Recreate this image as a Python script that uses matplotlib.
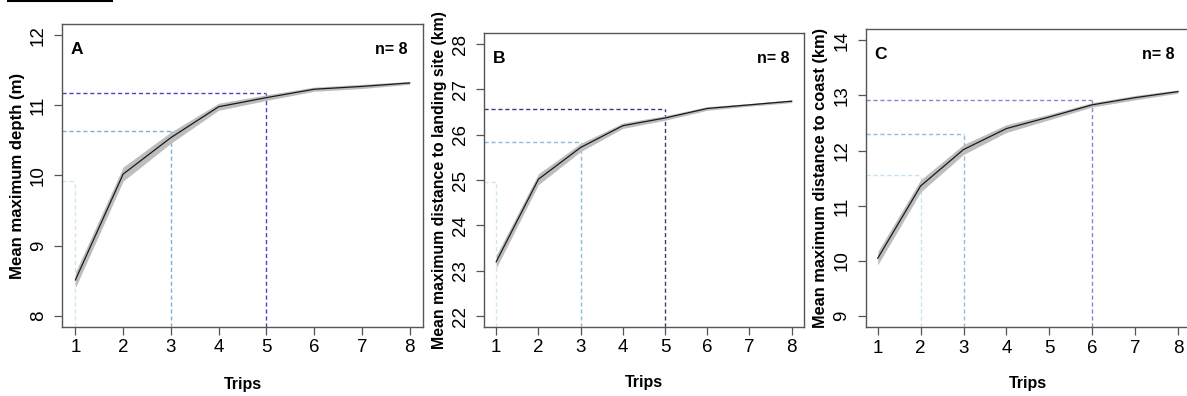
import matplotlib
matplotlib.use("Agg")
import matplotlib.pyplot as plt
from matplotlib.lines import Line2D

plt.rcParams['font.family'] = ['Liberation Sans', 'DejaVu Sans']

trips = [1, 2, 3, 4, 5, 6, 7, 8]

depth_mean = [8.51, 10.02, 10.54, 10.98, 11.11, 11.23, 11.27, 11.32]
depth_err = [0.11, 0.10, 0.08, 0.05, 0.04, 0.03, 0.03, 0.02]

landing_mean = [23.20, 25.02, 25.72, 26.20, 26.37, 26.58, 26.66, 26.74]
landing_err = [0.14, 0.12, 0.09, 0.06, 0.05, 0.04, 0.03, 0.03]

coast_mean = [10.05, 11.36, 12.02, 12.40, 12.61, 12.83, 12.96, 13.07]
coast_err = [0.12, 0.11, 0.09, 0.07, 0.05, 0.04, 0.04, 0.03]

# reference (dashed) guides: (trip, value)
depth_guides = [(1, 9.92), (3, 10.63), (5, 11.18)]
landing_guides = [(1, 24.96), (3, 25.85), (5, 26.57)]
coast_guides = [(2, 11.56), (3, 12.31), (6, 12.91)]

panel_letters = ['A', 'B', 'C']
ylabels = ['Mean maximum depth (m)',
           'Mean maximum distance to landing site (km)',
           'Mean maximum distance to coast (km)']
yticks_list = [[8, 9, 10, 11, 12], [22, 23, 24, 25, 26, 27, 28], [9, 10, 11, 12, 13, 14]]
n_text = 'n= 8'

W, H = 1187, 396
fig = plt.figure(figsize=(W / 100, H / 100), dpi=100)

def box(l, r, t, b):
    return [l / W, 1 - b / H, (r - l) / W, (b - t) / H]

positions = [box(62, 423, 24, 327), box(484.4, 803.5, 33.2, 327), box(865.7, 1190, 29.2, 327.3)]
ylabel_x = [-0.102, -0.117, -0.116]
ylabel_len = [206, 336, 300]
n_right = [0.956, 0.955, 0.951]
guide_cols_all = [
    ['#cde6f2', '#7fb0dc', '#4444c4'],
    ['#cde6f2', '#8dbbe0', '#3a3a80'],
    ['#c4e2f2', '#8fbde2', '#8585d2'],
]

means = [depth_mean, landing_mean, coast_mean]
errs = [depth_err, landing_err, coast_err]
guides = [depth_guides, landing_guides, coast_guides]

spine_col = '#555555'
renderer = fig.canvas.get_renderer()
for i in range(3):
    ax = fig.add_axes(positions[i])
    yt = yticks_list[i]
    ext_y = 0.04 * (yt[-1] - yt[0])
    ax.set_ylim(yt[0] - ext_y, yt[-1] + ext_y)
    ext_x = 0.04 * (trips[-1] - trips[0])
    ax.set_xlim(trips[0] - ext_x, trips[-1] + ext_x)
    ybot = yt[0] - ext_y
    for (gx, gy), c in zip(guides[i], guide_cols_all[i]):
        ax.plot([trips[0] - ext_x, gx], [gy, gy], ls=(0, (3, 2)), color=c, lw=1.0, zorder=1)
        ax.plot([gx, gx], [ybot, gy], ls=(0, (3, 2)), color=c, lw=1.0, zorder=1)
    lo = [m - e for m, e in zip(means[i], errs[i])]
    hi = [m + e for m, e in zip(means[i], errs[i])]
    ax.fill_between(trips, lo, hi, color='#bdbdbd', lw=0, zorder=2)
    ax.plot(trips, means[i], color='#1a1a1a', lw=0.9, zorder=3)
    ax.set_xticks(trips)
    ax.set_yticks(yt)
    ax.set_yticklabels([str(v) for v in yt], rotation=90, va='center')
    ax.tick_params(axis='both', direction='out', length=6, width=0.9, color=spine_col,
                   labelsize=13.5)
    ax.tick_params(axis='y', pad=5)
    ax.tick_params(axis='x', pad=3)
    for s in ax.spines.values():
        s.set_color(spine_col)
        s.set_linewidth(1.0)
    lab = ax.set_ylabel(ylabels[i], fontsize=12, fontweight='bold')
    ext = lab.get_window_extent(renderer)
    lab.set_fontsize(12 * ylabel_len[i] / ext.height)
    ax.yaxis.set_label_coords(ylabel_x[i], 0.5)
    ax.set_xlabel('Trips', fontsize=11.5, fontweight='bold')
    ax.xaxis.set_label_coords(0.5, -0.165)
    ax.text(0.025, 0.915, panel_letters[i], transform=ax.transAxes, fontsize=12.5,
            fontweight='bold', ha='left', va='center')
    ax.text(n_right[i], 0.915, n_text,
            transform=ax.transAxes, fontsize=11.5, fontweight='bold', ha='right', va='center')

fig.add_artist(Line2D([8 / W, 112 / W], [1 - 0.8 / H, 1 - 0.8 / H], color='black', lw=1.5,
                      transform=fig.transFigure))

fig.savefig('out.png', dpi=100)
